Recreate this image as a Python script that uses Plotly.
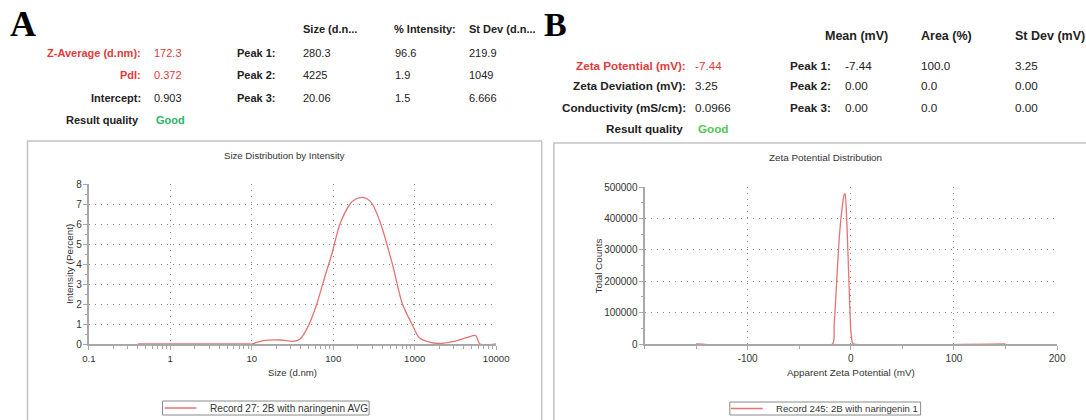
import plotly.graph_objects as go

W, H = 1086, 420

# ---------------- data ----------------
size_nm = [0.4, 1, 5, 9.5, 10, 13.9, 22.3, 32.5, 39.2, 49.7, 62.8, 79.4, 96, 121, 161, 190, 228,
           262, 302, 383, 532, 707, 936, 1130, 1571, 2084, 3040, 4430, 5610, 6320, 10000]
intensity_pct = [0, 0, 0, 0, 0, 0.17, 0.2, 0.13, 0.25, 0.92, 2.0, 3.4, 4.5, 6.0, 7.0, 7.25, 7.33,
                 7.25, 7.0, 6.0, 4.0, 2.0, 0.95, 0.33, 0.08, 0.03, 0.13, 0.33, 0.42, 0, 0]

zeta_mv = [-150, -17.8, -16.2, -13.6, -11.3, -9.0, -6.5, -5.5, -4.2, -2.3, 0, 1.6, 3.2, 150]
total_counts = [0, 0, 55000, 204000, 332000, 417000, 475000, 478000, 417000, 247000,
                45000, 4000, 0, 0]

size_ticks = [0.1, 1, 10, 100, 1000, 10000]
size_tick_text = ["0.1", "1", "10", "100", "1000", "10000"]
zeta_ticks = [-100, 0, 100, 200]
zeta_tick_text = ["-100", "0", "100", "200"]
count_ticks = [0, 100000, 200000, 300000, 400000, 500000]

a_labels = ["Z-Average (d.nm):", "PdI:", "Intercept:", "Result quality"]
a_values = ["172.3", "0.372", "0.903", "Good"]
a_peak_headers = ["Size (d.n...", "% Intensity:", "St Dev (d.n..."]
a_peaks = [["280.3", "96.6", "219.9"], ["4225", "1.9", "1049"], ["20.06", "1.5", "6.666"]]

b_labels = ["Zeta Potential (mV):", "Zeta Deviation (mV):", "Conductivity (mS/cm):", "Result quality"]
b_values = ["-7.44", "3.25", "0.0966", "Good"]
b_peak_headers = ["Mean (mV)", "Area (%)", "St Dev (mV)"]
b_peaks = [["-7.44", "100.0", "3.25"], ["0.00", "0.0", "0.00"], ["0.00", "0.0", "0.00"]]

# ---------------- helpers ----------------
def px(x):
    return x / W

def py(y):
    return 1 - y / H

FONT = "Liberation Sans, Arial, sans-serif"
SERIF = "Liberation Serif, Times New Roman, serif"
RED = "#e23b3b"
DARK = "#222222"
LINE = "#e57373"
GRID = "#8a8a8a"
AXIS = "#a8a8a8"
DOT = "1px,5px"

fig = go.Figure()

fig.add_trace(go.Scatter(x=size_nm, y=intensity_pct, mode="lines", cliponaxis=False,
                         line=dict(color=LINE, width=1.3, shape="spline", smoothing=0.8),
                         xaxis="x", yaxis="y", showlegend=False, hoverinfo="skip"))
fig.add_trace(go.Scatter(x=zeta_mv, y=total_counts, mode="lines", cliponaxis=False,
                         line=dict(color=LINE, width=1.3, shape="spline", smoothing=0.6),
                         xaxis="x2", yaxis="y2", showlegend=False, hoverinfo="skip"))

def axis_common(fs):
    return dict(showline=True, linecolor=AXIS, linewidth=2, ticks="outside",
                ticklen=4, tickcolor=AXIS, tickwidth=1, showgrid=True,
                gridcolor=GRID, griddash=DOT, gridwidth=1, zeroline=False,
                tickfont=dict(family=FONT, size=fs, color="#333"), layer="below traces",
                fixedrange=True, automargin=False)

fig.update_layout(
    width=W, height=H, autosize=False,
    margin=dict(l=0, r=0, t=0, b=0, pad=0, autoexpand=False),
    paper_bgcolor="white", plot_bgcolor="white",
    showlegend=False,
    xaxis=dict(axis_common(9.6), type="log", range=[-1, 4], tickvals=size_ticks,
               ticktext=size_tick_text, domain=[px(88.8), px(496.2)], anchor="y",
               minor=dict(ticks="outside", ticklen=3, tickcolor=AXIS, dtick="D1", showgrid=False)),
    yaxis=dict(axis_common(10), range=[0, 8], dtick=1, domain=[py(344), py(184)], anchor="x",
               ticklabelstandoff=-1,
               minor=dict(ticks="outside", ticklen=2, tickcolor=AXIS, dtick=0.5, showgrid=False)),
    xaxis2=dict(axis_common(10), range=[-200, 200], tickvals=zeta_ticks, ticktext=zeta_tick_text,
                domain=[px(644.5), px(1057.1)], anchor="y2",
                minor=dict(ticks="outside", ticklen=3, tickcolor=AXIS, dtick=50, showgrid=False)),
    yaxis2=dict(axis_common(10), range=[0, 500000], tickvals=count_ticks, tickformat="d",
                domain=[py(344), py(187)], anchor="x2", ticklabelstandoff=-1,
                minor=dict(ticks="outside", ticklen=2, tickcolor=AXIS, dtick=50000, showgrid=False)),
)

ann = []

def text(x, y, s, size=11, color=DARK, bold=False, anchor="left", family=FONT, angle=0):
    ann.append(dict(x=px(x), y=py(y), xref="paper", yref="paper", text=f"<b>{s}</b>" if bold else s,
                    showarrow=False, xanchor=anchor, yanchor="middle", textangle=angle,
                    font=dict(family=family, size=size, color=color)))

# panel letters
text(23, 23.5, "A", size=36, bold=True, anchor="center", family=SERIF, color="#000")
text(555, 24, "B", size=34, bold=True, anchor="center", family=SERIF, color="#000")

# ---- panel A header ----
FA = 11
a_rows = [53, 75, 98, 120]
for i, (lab, val) in enumerate(zip(a_labels, a_values)):
    lc = RED if i < 2 else DARK
    vc = RED if i < 2 else ("#2db36a" if i == 3 else DARK)
    text(143.3 if i < 3 else 141.2, a_rows[i], lab, size=FA, color=lc, bold=True, anchor="right")
    text(151.5 if i < 3 else 154, a_rows[i], val, size=FA, color=vc, bold=(i == 3), anchor="left")
a_hcols = [300.6, 391.9, 467.3]
a_cols = [300.6, 392.6, 467.3]
for j, hname in enumerate(a_peak_headers):
    text(a_hcols[j], 29.5, hname, size=FA, bold=True)
for i, row in enumerate(a_peaks):
    text(277.5, a_rows[i], f"Peak {i+1}:", size=FA, bold=True, anchor="right")
    for j, v in enumerate(row):
        text(a_cols[j], a_rows[i], v, size=FA)

# ---- panel B header ----
FB = 11.7
b_rows = [65, 86, 107.3, 128]
for i, (lab, val) in enumerate(zip(b_labels, b_values)):
    lc = RED if i == 0 else DARK
    vc = RED if i == 0 else ("#55c455" if i == 3 else DARK)
    text(687.6 if i < 3 else 684.8, b_rows[i], lab, size=FB, color=lc, bold=True, anchor="right")
    text(693.2 if i < 3 else 695.6, b_rows[i], val, size=FB, color=vc, bold=(i == 3), anchor="left")
b_hcols = [823.1, 918.8, 1012.5]
b_cols = [842.9, 918.8, 1012.5]
for j, hname in enumerate(b_peak_headers):
    text(b_hcols[j], 36, hname, size=12.5, bold=True)
for i, row in enumerate(b_peaks):
    text(832.5, b_rows[i], f"Peak {i+1}:", size=FB, bold=True, anchor="right")
    for j, v in enumerate(row):
        text(b_cols[j], b_rows[i], v, size=FB)

# ---- chart titles / axis titles ----
text(284.8, 155, "Size Distribution by Intensity", size=9.6, color="#333", anchor="center")
text(292, 372, "Size (d.nm)", size=9.6, color="#333", anchor="center")
text(68.9, 264, "Intensity (Percent)", size=9.9, color="#333", anchor="center", angle=-90)

text(825.5, 157, "Zeta Potential Distribution", size=9.9, color="#333", anchor="center")
text(850.9, 372, "Apparent Zeta Potential (mV)", size=9.9, color="#333", anchor="center")
text(597.5, 266, "Total Counts", size=9.9, color="#333", anchor="center", angle=-90)

# legends (manual)
text(208.3, 408, "Record 27: 2B with naringenin AVG", size=10.1, color="#333", anchor="left")
text(774, 408.5, "Record 245: 2B with naringenin 1", size=9.6, color="#333", anchor="left")

fig.update_layout(annotations=ann)

shapes = []
def rect(x0, y0, x1, y1, color, width=1):
    shapes.append(dict(type="rect", xref="paper", yref="paper", x0=px(x0), x1=px(x1),
                       y0=py(y1), y1=py(y0), line=dict(color=color, width=width),
                       fillcolor="rgba(0,0,0,0)", layer="below"))

def hline(x0, x1, y, color, width=1.3):
    shapes.append(dict(type="line", xref="paper", yref="paper", x0=px(x0), x1=px(x1),
                       y0=py(y), y1=py(y), line=dict(color=color, width=width)))

# panel frames
rect(27.5, 141, 541.7, 425, "#c4c4c4", 1.5)
rect(553.9, 143, 1090, 425, "#c4c4c4", 1.5)
# legend boxes
rect(162.5, 401, 369.1, 415, "#8a8a8a", 1)
hline(164.6, 196.3, 408, LINE)
rect(729.8, 402, 920.6, 415, "#8a8a8a", 1)
hline(730.8, 762.8, 408.5, LINE)

fig.update_layout(shapes=shapes)

fig.write_html("out.html",
               config={"displayModeBar": False, "responsive": False},
               post_script="document.body.style.margin='0';document.body.style.padding='0';"
                           "document.body.style.overflow='hidden';")
